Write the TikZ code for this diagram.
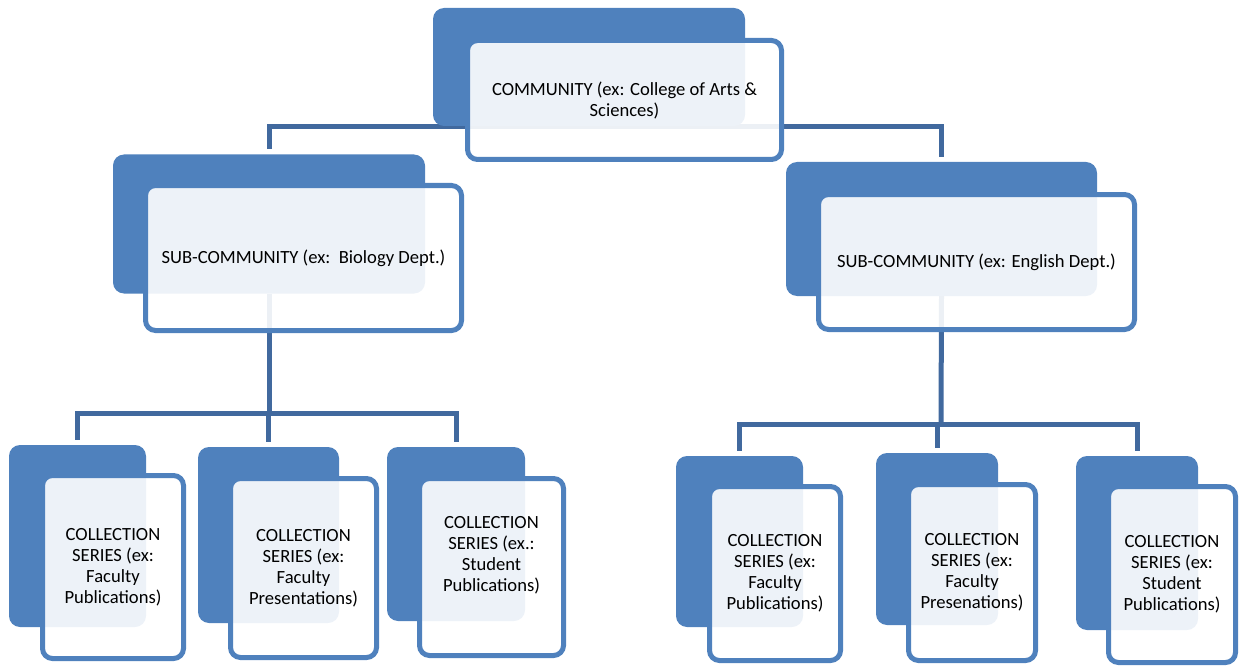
\documentclass[tikz,border=0pt]{standalone}
\usepackage{fontspec}
\setmainfont{Carlito}
\pgfdeclarelayer{background}
\pgfsetlayers{background,main}
\definecolor{ciemny}{HTML}{4F81BD}
\definecolor{linia}{HTML}{41699E}

\begin{document}
\begin{tikzpicture}[x=1pt, y=-1pt,
    tlo/.style={fill=ciemny, rounded corners=11pt, inner sep=0pt},
    karta/.style={draw=ciemny, line width=5pt, fill=white, fill opacity=0.9,
        text opacity=1, rounded corners=10pt, inner sep=0pt, align=center,
        font=\fontsize{18.6}{21}\selectfont},
    lacznik/.style={draw=linia, line width=5pt}]
    \useasboundingbox (0,0) rectangle (1240,666);
    % Poziom 1
    \node[tlo, minimum width=312, minimum height=118] (comB) at (589,67) {};
    \node[karta, minimum width=314, minimum height=119] (com) at (624.5,100)
        {COMMUNITY (ex: College of Arts \&\\Sciences)};
    % Poziom 2
    \node[tlo, minimum width=312, minimum height=139] (subLB) at (269,224) {};
    \node[karta, minimum width=316, minimum height=145] (subL) at (303.5,258)
        {SUB-COMMUNITY (ex:\ \ Biology Dept.)};
    \node[tlo, minimum width=311, minimum height=134] (subRB) at (941.5,229) {};
    \node[karta, minimum width=316, minimum height=135] (subR) at (976.5,262)
        {SUB-COMMUNITY (ex: English Dept.)};
    % Poziom 3, lewa strona
    \node[tlo, minimum width=137, minimum height=182] (colAB) at (77.5,536) {};
    \node[karta, minimum width=141, minimum height=183] (colA) at (113,567)
        {COLLECTION\\SERIES (ex:\\Faculty\\Publications)};
    \node[tlo, minimum width=141, minimum height=176] (colBB) at (268.5,535) {};
    \node[karta, minimum width=146, minimum height=179] (colB) at (303.5,568)
        {COLLECTION\\SERIES (ex:\\Faculty\\Presentations)};
    \node[tlo, minimum width=138, minimum height=174] (colCB) at (456,534) {};
    \node[karta, minimum width=144, minimum height=177] (colC) at (491.5,567)
        {\raisebox{11pt}[\height][\depth]{\begin{tabular}{@{}c@{}}COLLECTION\\SERIES (ex.:\\Student\\Publications)\end{tabular}}};
    % Poziom 3, prawa strona
    \node[tlo, minimum width=127, minimum height=171] (colDB) at (739.5,541.5) {};
    \node[karta, minimum width=131, minimum height=174] (colD) at (775,573.5)
        {COLLECTION\\SERIES (ex:\\Faculty\\Publications)};
    \node[tlo, minimum width=122, minimum height=172] (colEB) at (937,539) {};
    \node[karta, minimum width=127, minimum height=176] (colE) at (972,572.5)
        {COLLECTION\\SERIES (ex:\\Faculty\\Presenations)};
    \node[tlo, minimum width=122, minimum height=174] (colFB) at (1137,543) {};
    \node[karta, minimum width=127, minimum height=176] (colF) at (1172,574.5)
        {COLLECTION\\SERIES (ex:\\Student\\Publications)};
    % Polaczenia (pod kartami)
    \begin{pgfonlayer}{background}
        \draw[lacznik, shorten >=5pt] (comB.south) -| (subLB.north);
        \draw[lacznik, shorten >=5pt] (comB.south) -| (subRB.north);
        \coordinate (busL) at (269,413);
        \draw[lacznik] (subLB.south) -- (busL);
        \draw[lacznik, shorten >=5pt] (busL) -| (colAB.north);
        \draw[lacznik, shorten >=5pt] (busL) -| (colBB.north);
        \draw[lacznik, shorten >=5pt] (busL) -| (colCB.north);
        \coordinate (busR) at (941,424);
        \draw[lacznik] (subRB.south) -- (busR);
        \draw[lacznik, shorten >=5pt] (busR) -| (colDB.north);
        \draw[lacznik, shorten >=5pt] (busR) -| (colEB.north);
        \draw[lacznik, shorten >=5pt] (busR) -| (colFB.north);
    \end{pgfonlayer}
\end{tikzpicture}
\end{document}
